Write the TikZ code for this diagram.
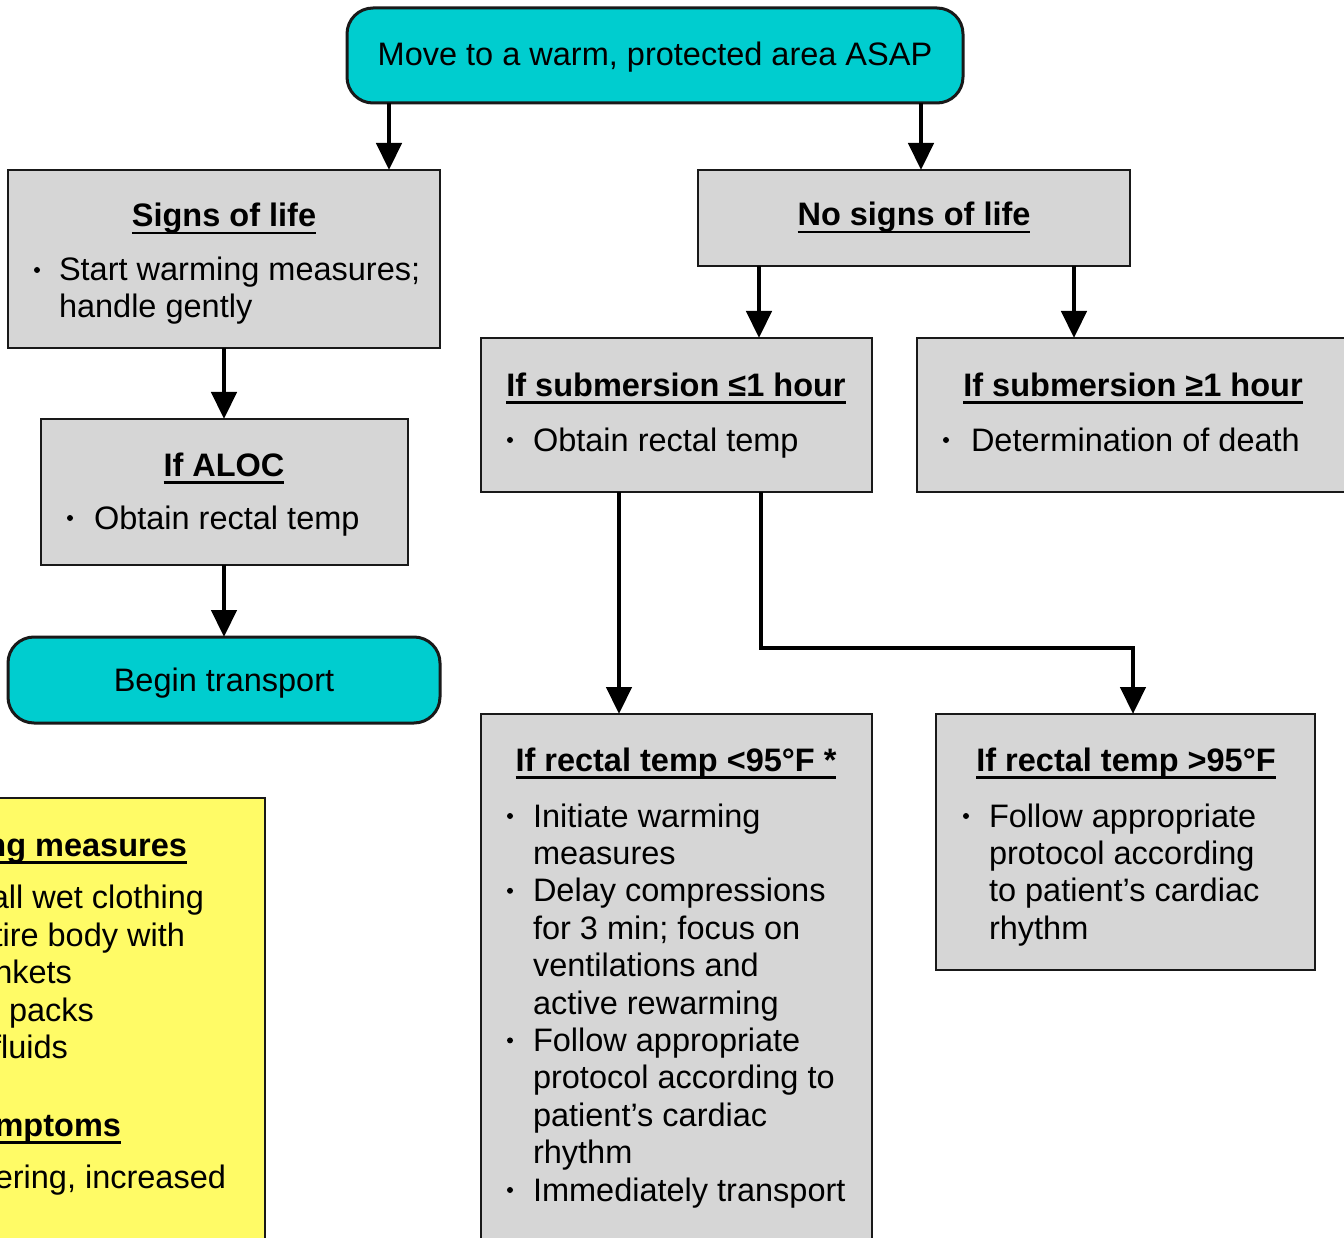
\documentclass[tikz,border=0pt]{standalone}
\usepackage{fontspec}
\setmainfont{Liberation Sans}
\usetikzlibrary{arrows.meta}
\definecolor{actioncyan}{RGB}{0,205,207}
\definecolor{stepgray}{RGB}{214,214,214}
\definecolor{noteyellow}{RGB}{255,251,102}
% bold heading with a rule set under it
\newsavebox\hdbox
\newcommand\hd[1]{\sbox\hdbox{\textbf{#1}}\rlap{\rule[-7.5pt]{\wd\hdbox}{2.2pt}}\usebox\hdbox}
\tikzset{
  every node/.style={font=\fontsize{32.5}{37.5}\selectfont, inner sep=0pt, outer sep=0pt},
  panel/.style={rectangle, draw=black!90, line width=2.5pt, fill=stepgray, anchor=north west},
  actionbox/.style={panel, fill=actioncyan, line width=3pt, rounded corners=26pt},
  notebox/.style={panel, fill=noteyellow},
  conn/.style={line width=4.5pt, line join=miter, -{Triangle[length=27pt,width=25pt]}},
  txt/.style={anchor=base west},
  ttl/.style={anchor=base},
  frag/.style={anchor=base east},
  bul/.style={fill=black}
}
\begin{document}
\begin{tikzpicture}[x=1pt,y=-1pt]
\useasboundingbox (0,0) rectangle (1344,1238);
\clip (0,0) rectangle (1344,1238);
\fill[white] (0,0) rectangle (1344,1238);

% boxes
\node[actionbox, minimum width=616pt, minimum height=95pt] (top) at (347,8) {};
\node[panel, minimum width=432pt, minimum height=178pt] (sol) at (8,170) {};
\node[panel, minimum width=367pt, minimum height=146pt] (aloc) at (41,419) {};
\node[actionbox, minimum width=432pt, minimum height=86pt] (begin) at (8,637) {};
\node[panel, minimum width=432pt, minimum height=96pt] (nsol) at (698,170) {};
\node[panel, minimum width=391pt, minimum height=154pt] (subA) at (481,338) {};
\node[panel, minimum width=500pt, minimum height=154pt] (subB) at (917,338) {};
\node[panel, minimum width=391pt, minimum height=600pt] (lowT) at (481,714) {};
\node[panel, minimum width=379pt, minimum height=256pt] (highT) at (936,714) {};
\node[notebox, minimum width=325pt, minimum height=520pt] (warm) at (-60,798) {};

% connector columns
\coordinate (xa) at (389,0);
\coordinate (xb) at (921,0);
\coordinate (xc) at (224,0);
\coordinate (xd) at (759,0);
\coordinate (xe) at (1074,0);
\coordinate (xf) at (619,0);
\coordinate (xg) at (761,0);
\coordinate (xh) at (1133,0);
\coordinate (bend) at (761,648);

\draw[conn] (top.south -| xa) -- (sol.north -| xa);
\draw[conn] (top.south -| xb) -- (nsol.north -| xb);
\draw[conn] (sol.south -| xc) -- (aloc.north -| xc);
\draw[conn] (aloc.south -| xc) -- (begin.north -| xc);
\draw[conn] (nsol.south -| xd) -- (subA.north -| xd);
\draw[conn] (nsol.south -| xe) -- (subB.north -| xe);
\draw[conn] (subA.south -| xf) -- (lowT.north -| xf);
\draw[conn] (subA.south -| xg) -- (bend) -| (highT.north -| xh);

% texts
\node[ttl] (topt) at (655,66) {Move to a warm, protected area ASAP};

\node[ttl] (solh) at (224,227) {\hd{Signs of life}};
\fill[bul] (37,270) circle (3pt);
\node[txt] (sol1) at (59,281) {Start warming measures;};
\node[txt] (sol2) at (59,318) {handle gently};

\node[ttl] (aloch) at (224,476) {\hd{If ALOC}};
\fill[bul] (70,518) circle (3pt);
\node[txt] (aloc1) at (94,529) {Obtain rectal temp};

\node[ttl] (begint) at (224,691) {Begin transport};

\node[ttl] (nsolh) at (914,226) {\hd{No signs of life}};

\node[ttl] (subAh) at (676,396) {\hd{If submersion ≤1 hour}};
\fill[bul] (510,440) circle (3pt);
\node[txt] (subA1) at (533,451) {Obtain rectal temp};

\node[ttl] (subBh) at (1133,396) {\hd{If submersion ≥1 hour}};
\fill[bul] (946,440) circle (3pt);
\node[txt] (subB1) at (971,451) {Determination of death};

\node[ttl] (lowTh) at (676,771) {\hd{If rectal temp <95°F *}};
\foreach \t [count=\i from 0] in {Initiate warming, measures, Delay compressions,
  for 3 min; focus on, ventilations and, active rewarming, Follow appropriate,
  protocol according to, patient’s cardiac, rhythm, Immediately transport}
  \node[txt] (lowT-\i) at (533,{827+37.4*\i}) {\t};
\foreach \i in {0,2,6,10}
  \fill[bul] (510,{816+37.4*\i}) circle (3pt);

\node[ttl] (highTh) at (1126,771) {\hd{If rectal temp >95°F}};
\foreach \t [count=\i from 0] in {Follow appropriate, protocol according,
  to patient’s cardiac, rhythm}
  \node[txt] (highT-\i) at (989,{827+37.4*\i}) {\t};
\fill[bul] (966,816) circle (3pt);

% note panel on the left edge
\node[frag] (warmh) at (187,856) {\hd{ng measures}};
\node[frag] (warm1) at (204,908) {all wet clothing};
\node[frag] (warm2) at (185,946) {tire body with};
\node[frag] (warm3) at (72,983) {nkets};
\node[frag] (warm4) at (94,1021) {packs};
\node[frag] (warm5) at (68,1058) {fluids};
\node[frag] (symh) at (121,1136) {\hd{mptoms}};
\node[frag] (sym1) at (226,1188) {ering, increased};
\end{tikzpicture}
\end{document}
